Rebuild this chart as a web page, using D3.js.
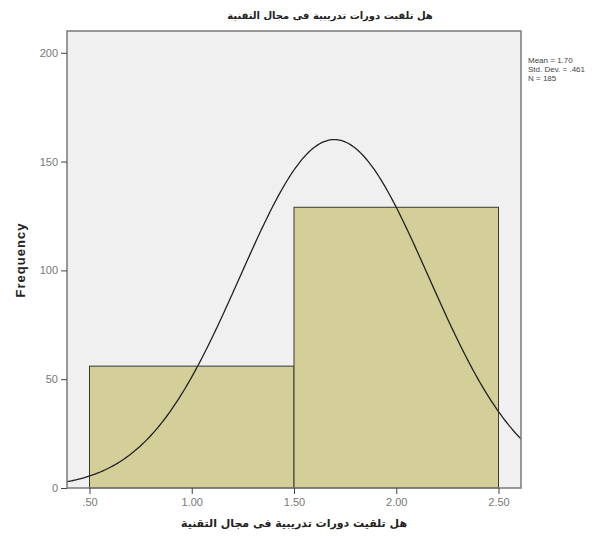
<!DOCTYPE html>
<html>
<head>
<meta charset="utf-8">
<script src="https://cdn.jsdelivr.net/npm/d3@7/dist/d3.min.js"></script>
<style>
  body { margin: 0; background: #fff; }
  svg { display: block; }
</style>
</head>
<body>
<svg id="chart" width="611" height="543"></svg>
<script>
const TITLE = 'هل تلقيت دورات تدريبية فى مجال التقنية';
const binEdges = [0.5, 1.5, 2.5];
const binCounts = [56, 129];
const xTicks = [0.5, 1.0, 1.5, 2.0, 2.5];
const xTickLabels = ['.50', '1.00', '1.50', '2.00', '2.50'];
const yTicks = [0, 50, 100, 150, 200];
const statLines = ['Mean = 1.70', 'Std. Dev.  =  .461', 'N = 185'];
const MEAN = 1.697;
const SD = 0.461;
const N = 185;

const BAR_FILL = '#d4cf98';
const PLOT_BG = '#f0f0f0';

const svg = d3.select('#chart');
const plot = { left: 67, right: 521, top: 31, bottom: 488 };

const x = d3.scaleLinear().domain([0.39, 2.61]).range([plot.left, plot.right]);
const y = d3.scaleLinear().domain([0, 210]).range([plot.bottom, plot.top]);

svg.append('defs').append('clipPath').attr('id', 'plot-clip')
  .append('rect')
  .attr('x', plot.left).attr('y', plot.top)
  .attr('width', plot.right - plot.left).attr('height', plot.bottom - plot.top);

svg.append('rect')
  .attr('x', plot.left).attr('y', plot.top)
  .attr('width', plot.right - plot.left).attr('height', plot.bottom - plot.top)
  .attr('fill', PLOT_BG);

const bins = binCounts.map((c, i) => ({ x0: binEdges[i], x1: binEdges[i + 1], count: c }));

svg.append('g').selectAll('rect')
  .data(bins)
  .enter()
  .append('rect')
  .attr('x', d => x(d.x0))
  .attr('y', d => y(d.count))
  .attr('width', d => x(d.x1) - x(d.x0))
  .attr('height', d => y(0) - y(d.count))
  .attr('fill', BAR_FILL)
  .attr('stroke', '#3a3a2a')
  .attr('stroke-width', 1);

// normal curve scaled to counts (bin width 1)
const binWidth = binEdges[1] - binEdges[0];
const normal = v => N * binWidth / (SD * Math.sqrt(2 * Math.PI)) * Math.exp(-0.5 * ((v - MEAN) / SD) ** 2);
const curvePts = d3.range(0, 301).map(i => {
  const v = x.domain()[0] + (x.domain()[1] - x.domain()[0]) * i / 300;
  return [v, normal(v)];
});
svg.append('path')
  .datum(curvePts)
  .attr('clip-path', 'url(#plot-clip)')
  .attr('fill', 'none')
  .attr('stroke', '#222')
  .attr('stroke-width', 1.3)
  .attr('d', d3.line().x(d => x(d[0])).y(d => y(d[1])));

// frame
svg.append('rect')
  .attr('x', plot.left).attr('y', plot.top)
  .attr('width', plot.right - plot.left).attr('height', plot.bottom - plot.top)
  .attr('fill', 'none')
  .attr('stroke', '#7a7a7a')
  .attr('stroke-width', 1.5);

const yAxis = svg.append('g')
  .attr('transform', `translate(${plot.left},0)`)
  .call(d3.axisLeft(y).tickValues(yTicks).tickSize(6).tickSizeOuter(0).tickPadding(3));
yAxis.select('.domain').remove();
yAxis.selectAll('line').attr('stroke', '#444');
yAxis.selectAll('text').attr('fill', '#777').attr('font-size', '11px').attr('font-family', 'Liberation Sans, Arial, sans-serif');

const xAxis = svg.append('g')
  .attr('transform', `translate(0,${plot.bottom})`)
  .call(d3.axisBottom(x).tickValues(xTicks).tickFormat((d, i) => xTickLabels[i]).tickSize(6).tickSizeOuter(0).tickPadding(4));
xAxis.select('.domain').remove();
xAxis.selectAll('line').attr('stroke', '#444');
xAxis.selectAll('text').attr('fill', '#777').attr('font-size', '11px').attr('font-family', 'Liberation Sans, Arial, sans-serif');

svg.append('text')
  .attr('x', 330).attr('y', 19)
  .attr('text-anchor', 'middle')
  .attr('font-family', 'DejaVu Sans, Noto Sans, sans-serif')
  .attr('font-size', '10px')
  .attr('font-weight', 'bold')
  .attr('fill', '#222')
  .text(TITLE);

svg.append('text')
  .attr('x', 294).attr('y', 527)
  .attr('text-anchor', 'middle')
  .attr('font-family', 'DejaVu Sans, Noto Sans, sans-serif')
  .attr('font-size', '11px')
  .attr('font-weight', 'bold')
  .attr('fill', '#222')
  .text(TITLE);

svg.append('text')
  .attr('transform', 'translate(25,260) rotate(-90)')
  .attr('text-anchor', 'middle')
  .attr('font-family', 'Liberation Sans, Arial, sans-serif')
  .attr('font-size', '13px')
  .attr('font-weight', 'bold')
  .attr('letter-spacing', '1px')
  .attr('fill', '#222')
  .text('Frequency');

svg.append('g').selectAll('text')
  .data(statLines)
  .enter()
  .append('text')
  .attr('x', 528)
  .attr('y', (d, i) => 63 + i * 9)
  .attr('font-family', 'Liberation Sans, Arial, sans-serif')
  .attr('font-size', '8px')
  .attr('fill', '#444')
  .text(d => d);
</script>
</body>
</html>
